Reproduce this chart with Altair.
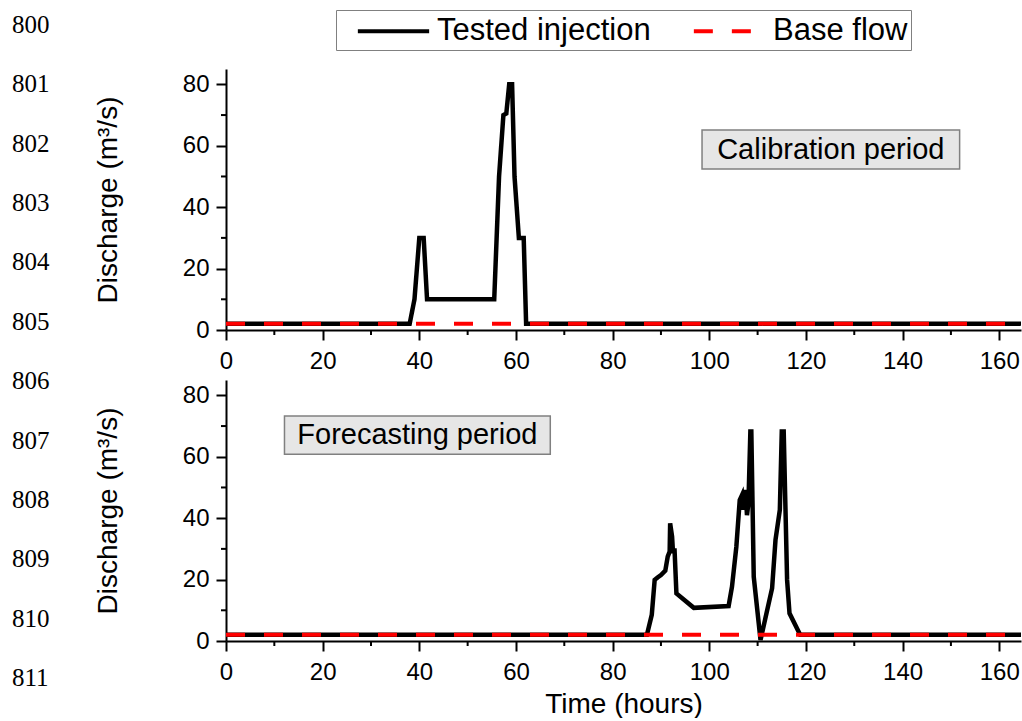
import altair as alt
import pandas as pd

# ---------------- data ----------------
series_names = ["Tested injection", "Base flow"]

# Calibration period (top panel): time (h) and discharge (m3/s)
cal_t = [0, 38.0, 39.0, 40.0, 40.9, 41.6, 55.5, 56.5, 57.4, 58.0, 58.6, 59.2,
         59.7, 60.6, 61.6, 62.1, 165]
cal_q = [2, 2, 10, 30, 30, 10, 10, 50, 70, 70.5, 80, 80,
         50, 30, 30, 2, 2]

# Forecasting period (bottom panel)
fc_t = [0, 87.1, 88.1, 88.7, 89.3, 90.0, 90.9, 91.4, 91.8, 91.9, 92.3, 92.5,
        92.8, 93.2, 96.8, 104.0, 104.7, 105.6, 106.3, 106.8, 107.1, 107.5,
        107.8, 108.1, 108.5, 108.7, 109.2, 110.6, 113.0, 113.7, 114.6, 115.0,
        115.4, 116.1, 116.6, 118.8, 165]
fc_q = [2, 2, 8.5, 19.9, 20.7, 21.5, 22.9, 27.5, 29.1, 38.3, 34.0, 28.6,
        30.2, 15.5, 10.8, 11.4, 17.7, 30.7, 45.9, 47.6, 42.7, 49.2,
        41.0, 44.9, 68.2, 68.2, 20.9, 0.3, 17.2, 32.9, 42.7, 68.2,
        68.2, 19.9, 9.0, 2, 2]

# Base flow (both panels)
base_t = [0, 165]
base_q = [2, 2]

# Axis ticks
x_major = [0, 20, 40, 60, 80, 100, 120, 140, 160]
x_minor = [10, 30, 50, 70, 90, 110, 130, 150]
y_major = [0, 20, 40, 60, 80]
y_minor = [10, 30, 50, 70]

# Manuscript line numbers on the left margin
line_numbers = ["800", "801", "802", "803", "804", "805",
                "806", "807", "808", "809", "810", "811"]
line_number_index = [800, 801, 802, 803, 804, 805, 806, 807, 808, 809, 810, 811]

# Annotation boxes (data coordinates)
cal_label = "Calibration period"
cal_box_t = [98.5, 151.8]
cal_box_q = [52.4, 65.1]
fc_label = "Forecasting period"
fc_box_t = [12.1, 67.1]
fc_box_q = [60.8, 73.3]

# ---------------- chart ----------------
W, H = 795, 261
X_DOMAIN = [0, 164.5]
Y_DOMAIN = [0, 85]
FONT = "Liberation Sans"
SERIF = "Liberation Serif, Times New Roman, serif"
DASH = [19, 19]


def xscale():
    return alt.Scale(domain=X_DOMAIN, nice=False, zero=False)


def yscale():
    return alt.Scale(domain=Y_DOMAIN, nice=False, zero=False)


def x_axis(title):
    kw = dict(values=x_major, tickSize=10, tickWidth=2, tickColor="black",
              domainColor="black", domainWidth=2, labelFont=FONT,
              labelFontSize=24, labelColor="black", labelPadding=9,
              labelFlush=False, labelOverlap=False, grid=False)
    if title:
        kw.update(title=title, titleFont=FONT, titleFontSize=28,
                  titleFontWeight="normal", titleColor="black", titlePadding=6)
    else:
        kw.update(title=None)
    return alt.Axis(**kw)


def y_axis():
    return alt.Axis(values=y_major, tickSize=10, tickWidth=2, tickColor="black",
                    domainColor="black", domainWidth=2, labelFont=FONT,
                    labelFontSize=24, labelColor="black", labelPadding=7,
                    labelFlush=False, labelOverlap=False, grid=False,
                    title="Discharge (m³/s)", titleFont=FONT, titleFontSize=28,
                    titleFontWeight="normal", titleColor="black",
                    titleX=-104, titleY=H / 2, titleAngle=-90,
                    titleAlign="center", titleBaseline="bottom")


# custom stroke symbol: long horizontal line in a small (31px) legend row
legend = alt.Legend(orient="none", legendX=110, legendY=-59,
                    direction="horizontal", title=None,
                    labelFont=FONT, labelFontSize=31, labelColor="black",
                    labelLimit=500, labelOffset=26,
                    symbolType="M-2.3,0H2.3", symbolSize=961, symbolStrokeWidth=4,
                    symbolOffset=36.5, columnPadding=24, padding=3.5,
                    strokeColor="#808080", fillColor="white")

cscale = alt.Scale(domain=series_names, range=["black", "red"])
dscale = alt.Scale(domain=series_names, range=[[1, 0], DASH])


def panel(t, q, box_t, box_q, label, xtitle, with_legend):
    df_main = pd.DataFrame({"t": t, "q": q, "s": series_names[0]})
    df_base = pd.DataFrame({"t": base_t, "q": base_q, "s": series_names[1]})

    X = lambda f="t:Q": alt.X(f, scale=xscale(), axis=x_axis(xtitle))
    Y = lambda f="q:Q": alt.Y(f, scale=yscale(), axis=y_axis())

    if with_legend:
        main_enc = dict(color=alt.Color("s:N", scale=cscale, legend=legend),
                        strokeDash=alt.StrokeDash("s:N", scale=dscale, legend=legend))
        base_enc = main_enc
    else:
        main_enc = dict(color=alt.value("black"))
        base_enc = dict(color=alt.value("red"), strokeDash=alt.value(DASH))

    black = alt.Chart(df_main).mark_line(strokeWidth=4.5, clip=True).encode(
        x=X(), y=Y(), order="t:Q", **main_enc)
    red = alt.Chart(df_base).mark_line(strokeWidth=4, clip=True).encode(
        x=X(), y=Y(), **base_enc)

    xminor = alt.Chart(pd.DataFrame({"t": x_minor})).mark_rule(
        color="black", strokeWidth=2).encode(
        x=X(), y=alt.value(H), y2=alt.value(H + 5))
    yminor = alt.Chart(pd.DataFrame({"q": y_minor})).mark_rule(
        color="black", strokeWidth=2).encode(
        y=Y(), x=alt.value(0), x2=alt.value(-5))

    box_df = pd.DataFrame({"t": [box_t[0]], "t2": [box_t[1]],
                           "q": [box_q[0]], "q2": [box_q[1]],
                           "tc": [(box_t[0] + box_t[1]) / 2],
                           "qc": [(box_q[0] + box_q[1]) / 2],
                           "label": [label]})
    box = alt.Chart(box_df).mark_rect(fill="#e6e6e6", stroke="#808080",
                                      strokeWidth=1.5).encode(
        x=X(), x2="t2:Q", y=Y(), y2="q2:Q")
    box_text = alt.Chart(box_df).mark_text(font=FONT, fontSize=29, color="black",
                                           align="center", baseline="middle").encode(
        x=X("tc:Q"), y=Y("qc:Q"), text="label:N")

    return alt.layer(black, red, xminor, yminor, box, box_text).properties(
        width=W, height=H)


numbers = alt.Chart(pd.DataFrame({"n": line_number_index, "label": line_numbers})).mark_text(
    font=SERIF, fontSize=25, color="black", align="left", baseline="middle").encode(
    x=alt.value(-214),
    y=alt.Y("n:Q", scale=alt.Scale(domain=[800, 811], range=[-44, 609]), axis=None),
    text="label:N")

top = alt.layer(
    panel(cal_t, cal_q, cal_box_t, cal_box_q, cal_label, None, True),
    numbers,
).resolve_scale(y="independent").properties(width=W, height=H)

bottom = panel(fc_t, fc_q, fc_box_t, fc_box_q, fc_label, "Time (hours)", False)

chart = alt.vconcat(top, bottom, spacing=50, bounds="flush").properties(
    padding={"left": 12, "top": 9, "right": 1, "bottom": 0},
    background="white",
).configure_view(stroke=None)

chart.save("out.html", embed_options={"renderer": "svg", "actions": False})
